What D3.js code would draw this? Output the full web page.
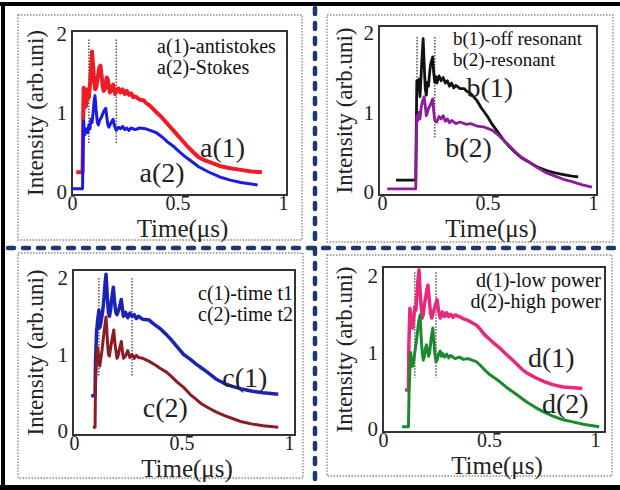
<!DOCTYPE html>
<html>
<head>
<meta charset="utf-8">
<script src="https://cdn.jsdelivr.net/npm/d3@7"></script>
<style>
  html, body { margin: 0; padding: 0; background: #fff; }
  svg { display: block; }
  svg text { font-family: "Liberation Serif", "Times New Roman", Tinos, Times, serif; }
</style>
</head>
<body>
<svg id="chart" width="620" height="490"></svg>
<script>
// ---------------- DATA ----------------
const xTickValues = [0, 0.5, 1];
const yTickValues = [0, 1, 2];
const xAxisTitle = "Time(\u03bcs)";
const yAxisTitle = "Intensity (arb.uni)";

// Panel a
const legendA = ["a(1)-antistokes", "a(2)-Stokes"];
const seriesNamesA = ["a(1)", "a(2)"];
const a1 = [[0.02,0.25],[0.05,0.25],[0.052,0.7],[0.055,1.32],[0.06,1.3],[0.065,1.08],[0.07,1.15],[0.075,1.3],[0.08,1.2],[0.085,1.35],[0.09,1.55],[0.095,1.78],[0.1,1.6],[0.105,1.4],[0.11,1.3],[0.115,1.32],[0.12,1.42],[0.125,1.5],[0.13,1.58],[0.135,1.6],[0.14,1.48],[0.145,1.35],[0.15,1.28],[0.155,1.3],[0.16,1.38],[0.165,1.45],[0.17,1.42],[0.175,1.32],[0.18,1.26],[0.185,1.28],[0.19,1.33],[0.195,1.36],[0.2,1.3],[0.205,1.24],[0.21,1.27],[0.22,1.31],[0.23,1.26],[0.24,1.3],[0.25,1.24],[0.26,1.28],[0.27,1.23],[0.28,1.25],[0.29,1.2],[0.3,1.21],[0.32,1.17],[0.34,1.16],[0.35,1.13],[0.37,1.09],[0.4,1.01],[0.42,0.96],[0.45,0.87],[0.48,0.78],[0.5,0.72],[0.53,0.63],[0.55,0.57],[0.58,0.49],[0.6,0.44],[0.63,0.4],[0.65,0.38],[0.7,0.33],[0.75,0.3],[0.8,0.28],[0.85,0.26],[0.9,0.25]];
const a2 = [[0.0,0.04],[0.05,0.04],[0.052,0.5],[0.055,0.9],[0.06,0.72],[0.065,0.78],[0.07,0.8],[0.075,0.75],[0.08,0.85],[0.085,0.8],[0.09,0.92],[0.095,0.88],[0.1,1.0],[0.105,1.15],[0.109,1.22],[0.115,1.02],[0.12,0.88],[0.125,0.85],[0.13,0.9],[0.14,0.95],[0.15,1.02],[0.16,1.06],[0.165,0.95],[0.17,0.85],[0.175,0.82],[0.18,0.85],[0.19,0.9],[0.195,0.92],[0.2,0.85],[0.21,0.78],[0.22,0.82],[0.23,0.8],[0.24,0.83],[0.25,0.79],[0.26,0.81],[0.27,0.78],[0.28,0.81],[0.3,0.79],[0.32,0.81],[0.35,0.8],[0.38,0.77],[0.4,0.75],[0.43,0.69],[0.45,0.64],[0.48,0.58],[0.5,0.53],[0.53,0.46],[0.55,0.42],[0.58,0.36],[0.6,0.32],[0.65,0.25],[0.7,0.19],[0.75,0.15],[0.8,0.12],[0.85,0.1],[0.88,0.09]];
const markersA = [0.08, 0.21];

// Panel b
const legendB = ["b(1)-off resonant", "b(2)-resonant"];
const seriesNamesB = ["b(1)", "b(2)"];
const b1 = [[0.066,0.15],[0.16,0.15],[0.162,0.7],[0.165,1.4],[0.17,1.28],[0.175,1.42],[0.18,1.2],[0.185,1.45],[0.19,1.7],[0.195,1.93],[0.2,1.6],[0.205,1.3],[0.21,1.22],[0.215,1.38],[0.22,1.33],[0.225,1.48],[0.23,1.6],[0.24,1.7],[0.245,1.5],[0.25,1.38],[0.255,1.45],[0.26,1.37],[0.27,1.46],[0.28,1.4],[0.29,1.44],[0.3,1.37],[0.31,1.4],[0.32,1.33],[0.33,1.37],[0.34,1.31],[0.35,1.34],[0.37,1.3],[0.39,1.3],[0.4,1.27],[0.42,1.24],[0.45,1.15],[0.47,1.06],[0.5,0.95],[0.52,0.86],[0.55,0.75],[0.58,0.64],[0.6,0.58],[0.63,0.5],[0.66,0.43],[0.7,0.37],[0.74,0.31],[0.78,0.27],[0.82,0.24],[0.86,0.22],[0.9,0.2],[0.93,0.19]];
const b2 = [[0.025,0.04],[0.16,0.04],[0.162,0.5],[0.165,0.96],[0.17,0.9],[0.175,1.0],[0.18,0.92],[0.185,1.05],[0.19,1.12],[0.2,1.2],[0.205,1.08],[0.21,0.96],[0.215,1.0],[0.22,1.05],[0.23,1.1],[0.24,1.17],[0.245,1.02],[0.25,0.9],[0.26,0.88],[0.27,0.95],[0.28,0.92],[0.29,0.96],[0.3,0.89],[0.31,0.92],[0.32,0.87],[0.33,0.9],[0.35,0.86],[0.37,0.88],[0.4,0.85],[0.42,0.86],[0.45,0.83],[0.48,0.82],[0.5,0.8],[0.52,0.78],[0.55,0.72],[0.58,0.64],[0.6,0.59],[0.63,0.51],[0.66,0.44],[0.7,0.37],[0.74,0.3],[0.78,0.24],[0.82,0.2],[0.86,0.16],[0.9,0.13],[0.95,0.09],[0.995,0.06]];
const markersB = [0.166, 0.25];

// Panel c
const legendC = ["c(1)-time t1", "c(2)-time t2"];
const seriesNamesC = ["c(1)", "c(2)"];
const c1 = [[0.08,0.46],[0.098,0.46],[0.1,0.9],[0.105,1.3],[0.11,1.45],[0.116,1.58],[0.12,1.35],[0.125,1.42],[0.13,1.5],[0.135,1.6],[0.14,1.75],[0.145,1.95],[0.149,2.05],[0.155,1.75],[0.16,1.55],[0.165,1.5],[0.17,1.58],[0.175,1.72],[0.183,1.88],[0.19,1.65],[0.195,1.55],[0.2,1.52],[0.21,1.6],[0.22,1.72],[0.225,1.6],[0.23,1.5],[0.24,1.55],[0.25,1.48],[0.26,1.54],[0.27,1.5],[0.28,1.52],[0.29,1.47],[0.3,1.5],[0.32,1.46],[0.35,1.45],[0.37,1.4],[0.4,1.34],[0.43,1.26],[0.45,1.2],[0.48,1.1],[0.51,1.0],[0.54,0.94],[0.57,0.87],[0.59,0.83],[0.62,0.77],[0.66,0.68],[0.7,0.62],[0.74,0.58],[0.78,0.55],[0.83,0.52],[0.88,0.5],[0.95,0.48]];
const c2 = [[0.088,0.05],[0.098,0.05],[0.1,0.6],[0.105,0.95],[0.11,1.09],[0.115,0.95],[0.12,0.85],[0.125,0.95],[0.13,1.05],[0.14,1.3],[0.149,1.49],[0.155,1.2],[0.16,1.0],[0.165,0.98],[0.17,1.08],[0.178,1.22],[0.185,1.32],[0.19,1.15],[0.2,0.95],[0.205,0.98],[0.21,1.05],[0.22,1.17],[0.225,1.05],[0.23,0.95],[0.24,0.98],[0.25,1.05],[0.26,0.96],[0.27,1.0],[0.28,0.95],[0.29,0.99],[0.3,0.96],[0.32,0.95],[0.35,0.91],[0.38,0.86],[0.4,0.82],[0.43,0.77],[0.45,0.72],[0.48,0.64],[0.51,0.57],[0.54,0.48],[0.57,0.41],[0.59,0.36],[0.62,0.31],[0.66,0.25],[0.7,0.2],[0.74,0.16],[0.78,0.12],[0.83,0.09],[0.88,0.07],[0.95,0.05]];
const markersC = [0.116, 0.27];

// Panel d
const legendD = ["d(1)-low power", "d(2)-high power"];
const seriesNamesD = ["d(1)", "d(2)"];
const d1 = [[0.104,0.51],[0.12,0.51],[0.122,1.1],[0.127,1.58],[0.133,1.4],[0.14,1.32],[0.145,1.45],[0.15,1.6],[0.155,1.55],[0.16,1.75],[0.165,1.95],[0.17,2.08],[0.175,1.8],[0.18,1.6],[0.185,1.45],[0.19,1.5],[0.195,1.62],[0.2,1.7],[0.206,1.8],[0.212,1.88],[0.218,1.7],[0.224,1.52],[0.23,1.45],[0.235,1.5],[0.24,1.55],[0.245,1.6],[0.255,1.69],[0.262,1.55],[0.27,1.45],[0.275,1.48],[0.28,1.53],[0.29,1.47],[0.3,1.52],[0.31,1.47],[0.32,1.5],[0.33,1.46],[0.34,1.49],[0.36,1.47],[0.38,1.44],[0.4,1.42],[0.42,1.39],[0.44,1.36],[0.46,1.3],[0.48,1.23],[0.5,1.18],[0.52,1.13],[0.55,1.06],[0.58,0.98],[0.6,0.93],[0.63,0.85],[0.66,0.77],[0.68,0.73],[0.72,0.67],[0.76,0.62],[0.8,0.58],[0.85,0.55],[0.9,0.54],[0.94,0.53]];
const d2 = [[0.09,0.03],[0.12,0.03],[0.123,0.5],[0.13,1.0],[0.135,0.88],[0.14,0.82],[0.145,0.9],[0.15,1.0],[0.16,1.2],[0.168,1.4],[0.175,1.49],[0.18,1.2],[0.185,1.0],[0.19,0.9],[0.195,0.95],[0.2,1.05],[0.205,1.1],[0.21,1.02],[0.215,0.95],[0.22,1.0],[0.228,1.2],[0.235,1.32],[0.24,1.15],[0.245,0.98],[0.25,0.88],[0.255,0.9],[0.262,0.98],[0.27,1.02],[0.275,0.95],[0.28,0.99],[0.29,0.94],[0.3,0.98],[0.31,0.93],[0.32,0.96],[0.34,0.92],[0.36,0.94],[0.38,0.91],[0.4,0.92],[0.42,0.9],[0.44,0.88],[0.46,0.83],[0.48,0.77],[0.5,0.72],[0.52,0.68],[0.55,0.62],[0.58,0.55],[0.6,0.51],[0.63,0.45],[0.66,0.39],[0.68,0.35],[0.72,0.28],[0.76,0.22],[0.8,0.17],[0.85,0.12],[0.9,0.09],[0.95,0.06],[1.02,0.03]];
const markersD = [0.15, 0.25];

// ---------------- LAYOUT / STYLE ----------------
const panels = [
  { box:[18,15,284,225], frame:[72,31,287,195], x0:72, x1:283, yb:192, yt:34,
    series:[a1,a2], names:seriesNamesA, legend:legendA, markers:markersA, mk:[1.93,0.62],
    colors:["#ee1c24","#1c1ce0"], widths:[4,3],
    legendPos:{x:157, y:[53,74], anchor:"start", size:20},
    labelPos:[[0.607,0.44],[0.32,0.13]] },
  { box:[327,15,286,227], frame:[379,26,597,195], x0:382, x1:593, yb:192, yt:33,
    series:[b1,b2], names:seriesNamesB, legend:legendB, markers:markersB, mk:[1.95,0.69],
    colors:["#111111","#8e1a9c"], widths:[2.8,2.8],
    legendPos:{x:453, y:[45,66], anchor:"start", size:19},
    labelPos:[[0.40,1.19],[0.30,0.44]] },
  { box:[18,253,285,225], frame:[73,270,295,435], x0:74, x1:289, yb:431, yt:278,
    series:[c1,c2], names:seriesNamesC, legend:legendC, markers:markersC, mk:[2.0,0.71],
    colors:["#1c22b4","#8c1c24"], widths:[3.5,3],
    legendPos:{x:293, y:[300,321], anchor:"end", size:20},
    labelPos:[[0.69,0.58],[0.32,0.18]] },
  { box:[327,255,285,221], frame:[383,267,605,432], x0:383, x1:595, yb:429, yt:276,
    series:[d1,d2], names:seriesNamesD, legend:legendD, markers:markersD, mk:[2.05,0.67],
    colors:["#e8287c","#1c8a2c"], widths:[3.5,3],
    legendPos:{x:601, y:[287,308], anchor:"end", size:20},
    labelPos:[[0.684,0.81],[0.75,0.21]] }
];

const svg = d3.select("#chart");
svg.append("rect").attr("width",620).attr("height",490).attr("fill","#fff");

panels.forEach(p => {
  const g = svg.append("g");
  g.append("rect").attr("x",p.box[0]).attr("y",p.box[1]).attr("width",p.box[2]).attr("height",p.box[3])
    .attr("fill","none").attr("stroke","#8a8a8a").attr("stroke-width",1.4).attr("stroke-dasharray","1.5,1.5");

  const x = d3.scaleLinear().domain([0,1]).range([p.x0,p.x1]);
  const y = d3.scaleLinear().domain([0,2]).range([p.yb,p.yt]);
  const [fl,ft,fr,fb] = p.frame;

  g.append("rect").attr("x",fl).attr("y",ft).attr("width",fr-fl).attr("height",fb-ft)
    .attr("fill","#fff").attr("stroke","#333").attr("stroke-width",2);

  p.markers.forEach(t => {
    g.append("line").attr("x1",x(t)).attr("x2",x(t)).attr("y1",y(p.mk[0])).attr("y2",y(p.mk[1]))
      .attr("stroke","#555").attr("stroke-width",1.5).attr("stroke-dasharray","1.5,1.5");
  });

  const line = d3.line().x(d=>x(d[0])).y(d=>y(d[1]));
  p.series.forEach((s,i) => {
    g.append("path").datum(s).attr("d",line).attr("fill","none")
      .attr("stroke",p.colors[i]).attr("stroke-width",p.widths[i]).attr("stroke-linejoin","round");
  });

  const xa = g.append("g").attr("transform",`translate(0,${fb})`)
    .call(d3.axisBottom(x).tickValues(xTickValues).tickSize(0).tickPadding(1).tickFormat(d3.format("")));
  xa.select(".domain").remove();
  xa.attr("font-family",null);
  xa.selectAll("text").style("font-size","20px").attr("fill","#222");

  const ya = g.append("g").attr("transform",`translate(${fl+1},0)`)
    .call(d3.axisLeft(y).tickValues(yTickValues).tickSize(0).tickPadding(6).tickFormat(d3.format("")));
  ya.select(".domain").remove();
  ya.attr("font-family",null);
  ya.selectAll("text").style("font-size","21px").attr("fill","#222");

  g.append("text").attr("x",(fl+fr)/2+3).attr("y",fb+42).attr("text-anchor","middle")
    .style("font-size","25px").attr("fill","#222").text(xAxisTitle);
  g.append("text").attr("transform",`translate(${p.box[0]+17},${(ft+fb)/2}) rotate(-90)`)
    .attr("text-anchor","middle").attr("dominant-baseline","central")
    .style("font-size","23px").attr("fill","#222").text(yAxisTitle);

  p.legend.forEach((t,i) => {
    g.append("text").attr("x",p.legendPos.x).attr("y",p.legendPos.y[i]).attr("text-anchor",p.legendPos.anchor)
      .style("font-size",p.legendPos.size+"px").attr("fill","#111").text(t);
  });

  p.names.forEach((t,i) => {
    g.append("text").attr("x",x(p.labelPos[i][0])).attr("y",y(p.labelPos[i][1]))
      .style("font-size","28px").attr("fill","#222").text(t);
  });
});

svg.append("line").attr("x1",315).attr("x2",315).attr("y1",8).attr("y2",484)
  .attr("stroke","#1b3a6b").attr("stroke-width",4.5).attr("stroke-linecap","round").attr("stroke-dasharray","6,9");
svg.append("line").attr("x1",8).attr("x2",620).attr("y1",248).attr("y2",248)
  .attr("stroke","#1b3a6b").attr("stroke-width",4.5).attr("stroke-linecap","round").attr("stroke-dasharray","6,9");

svg.append("rect").attr("x",0).attr("y",2).attr("width",620).attr("height",4).attr("fill","#000");
svg.append("rect").attr("x",1).attr("y",2).attr("width",4).attr("height",488).attr("fill","#000");
svg.append("rect").attr("x",0).attr("y",485).attr("width",620).attr("height",5).attr("fill","#000");
</script>
</body>
</html>
